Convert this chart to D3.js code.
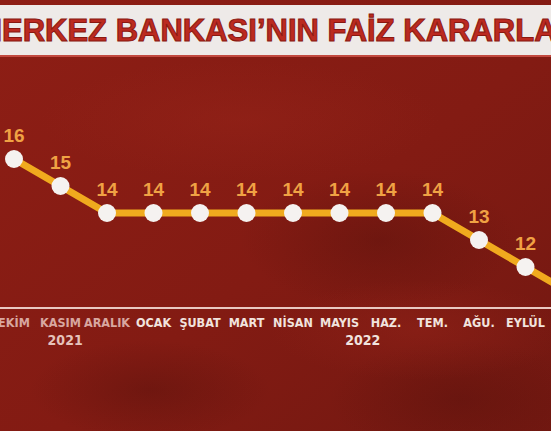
<!DOCTYPE html>
<html>
<head>
<meta charset="utf-8">
<script src="https://cdn.jsdelivr.net/npm/d3@7"></script>
<style>
  html, body { margin: 0; padding: 0; background: #7e1a12; overflow: hidden; }
  svg { display: block; }
</style>
</head>
<body>
<div id="chart"></div>
<script>
// data
var months = ["EKİM", "KASIM", "ARALIK", "OCAK", "ŞUBAT", "MART", "NİSAN", "MAYIS", "HAZ.", "TEM.", "AĞU.", "EYLÜL", "EKİM"];
var monthYear = [2021, 2021, 2021, 2022, 2022, 2022, 2022, 2022, 2022, 2022, 2022, 2022, 2022];
var rates = [16, 15, 14, 14, 14, 14, 14, 14, 14, 14, 13, 12, 11];
var years = ["2021", "2022"];
var yearAt = [1.1, 7.5];   // month index the year label sits under
var title = "MERKEZ BANKASI’NIN FAİZ KARARLARI";

var width = 551, height = 431;

var svg = d3.select('#chart')
  .append('svg')
    .attr('width', width)
    .attr('height', height);

////////////////////// background //////////////////////
var defs = svg.append('defs');

var bg = defs.append('linearGradient')
  .attr('id', 'bg')
  .attr('x1', 0).attr('y1', 0).attr('x2', 1).attr('y2', 1);
bg.append('stop').attr('offset', '0%').attr('stop-color', '#8e1e15');
bg.append('stop').attr('offset', '55%').attr('stop-color', '#831b13');
bg.append('stop').attr('offset', '100%').attr('stop-color', '#721811');

var shade = defs.append('radialGradient').attr('id', 'shade');
shade.append('stop').attr('offset', '0%').attr('stop-color', '#5a120c').attr('stop-opacity', 0.45);
shade.append('stop').attr('offset', '100%').attr('stop-color', '#5a120c').attr('stop-opacity', 0);

var glow = defs.append('radialGradient').attr('id', 'glow');
glow.append('stop').attr('offset', '0%').attr('stop-color', '#9c261b').attr('stop-opacity', 0.35);
glow.append('stop').attr('offset', '100%').attr('stop-color', '#9c261b').attr('stop-opacity', 0);

svg.append('rect')
  .attr('width', width).attr('height', height)
  .attr('fill', 'url(#bg)');

// soft texture blobs
svg.append('ellipse').attr('cx', 380).attr('cy', 240).attr('rx', 140).attr('ry', 70).attr('fill', 'url(#shade)');
svg.append('ellipse').attr('cx', 460).attr('cy', 400).attr('rx', 130).attr('ry', 60).attr('fill', 'url(#shade)');
svg.append('ellipse').attr('cx', 150).attr('cy', 390).attr('rx', 120).attr('ry', 50).attr('fill', 'url(#shade)');
svg.append('ellipse').attr('cx', 240).attr('cy', 120).attr('rx', 200).attr('ry', 60).attr('fill', 'url(#glow)');
svg.append('ellipse').attr('cx', 420).attr('cy', 330).attr('rx', 150).attr('ry', 50).attr('fill', 'url(#glow)');

////////////////////// title band //////////////////////
svg.append('rect')
  .attr('x', 0).attr('y', 5)
  .attr('width', width).attr('height', 51)
  .attr('fill', '#eeeae8');
svg.append('rect')
  .attr('x', 0).attr('y', 55)
  .attr('width', width).attr('height', 2)
  .attr('fill', '#c24a40');

var titleText = svg.append('text')
  .attr('y', 41)
  .attr('font-family', 'Liberation Sans, Arial, sans-serif')
  .attr('font-weight', 'bold')
  .attr('font-size', 31)
  .attr('fill', '#bb2a20')
  .attr('stroke', '#8a1810')
  .attr('stroke-width', 1)
  .text(title);

// first letter sits off the left edge
var probe = svg.append('text')
  .attr('font-family', 'Liberation Sans, Arial, sans-serif')
  .attr('font-weight', 'bold')
  .attr('font-size', 31)
  .text(title.charAt(0));
var mWidth = probe.node().getComputedTextLength();
probe.remove();
titleText.attr('x', 2 - mWidth);

////////////////////// scales //////////////////////
var x = d3.scaleLinear()
  .domain([0, months.length - 1])
  .range([14, 14 + 46.5 * (months.length - 1)]);

var y = d3.scaleLinear()
  .domain([10, 16])
  .range([321, 159]);

////////////////////// axis //////////////////////
svg.append('line')
  .attr('x1', 0).attr('x2', width)
  .attr('y1', 308).attr('y2', 308)
  .attr('stroke', '#e9c9c2')
  .attr('stroke-width', 2);

var monthFont = 'Liberation Sans Narrow, DejaVu Sans Condensed, Arial Narrow, sans-serif';

svg.selectAll('.month')
  .data(months)
  .enter()
  .append('text')
  .attr('class', 'month')
  .attr('x', function(d, i) { return x(i); })
  .attr('y', 327)
  .attr('text-anchor', 'middle')
  .attr('font-family', monthFont)
  .attr('font-weight', 'bold')
  .attr('font-size', 12.5)
  .attr('fill', function(d, i) { return monthYear[i] == 2021 ? '#d8a7a0' : '#f1e3de'; })
  .text(function(d) { return d; });

svg.selectAll('.year')
  .data(years)
  .enter()
  .append('text')
  .attr('class', 'year')
  .attr('x', function(d, i) { return x(yearAt[i]); })
  .attr('y', 345)
  .attr('text-anchor', 'middle')
  .attr('font-family', monthFont)
  .attr('font-weight', 'bold')
  .attr('font-size', 14)
  .attr('fill', function(d) { return d == '2021' ? '#e6c2ba' : '#f1e3de'; })
  .text(function(d) { return d; });

////////////////////// line + dots //////////////////////
var line = d3.line()
  .x(function(d, i) { return x(i); })
  .y(function(d) { return y(d); });

svg.append('path')
  .datum(rates)
  .attr('d', line)
  .attr('fill', 'none')
  .attr('stroke', '#f0aa1e')
  .attr('stroke-width', 7)
  .attr('stroke-linejoin', 'round');

svg.selectAll('.dot')
  .data(rates)
  .enter()
  .append('circle')
  .attr('class', 'dot')
  .attr('cx', function(d, i) { return x(i); })
  .attr('cy', function(d) { return y(d); })
  .attr('r', 9)
  .attr('fill', '#f5f2f0');

svg.selectAll('.val')
  .data(rates)
  .enter()
  .append('text')
  .attr('class', 'val')
  .attr('x', function(d, i) { return x(i); })
  .attr('y', function(d) { return y(d) - 17; })
  .attr('text-anchor', 'middle')
  .attr('font-family', 'Liberation Sans, Arial, sans-serif')
  .attr('font-weight', 'bold')
  .attr('font-size', 19)
  .attr('fill', '#f0a244')
  .text(function(d) { return String(d).replace('.', ','); });
</script>
</body>
</html>
